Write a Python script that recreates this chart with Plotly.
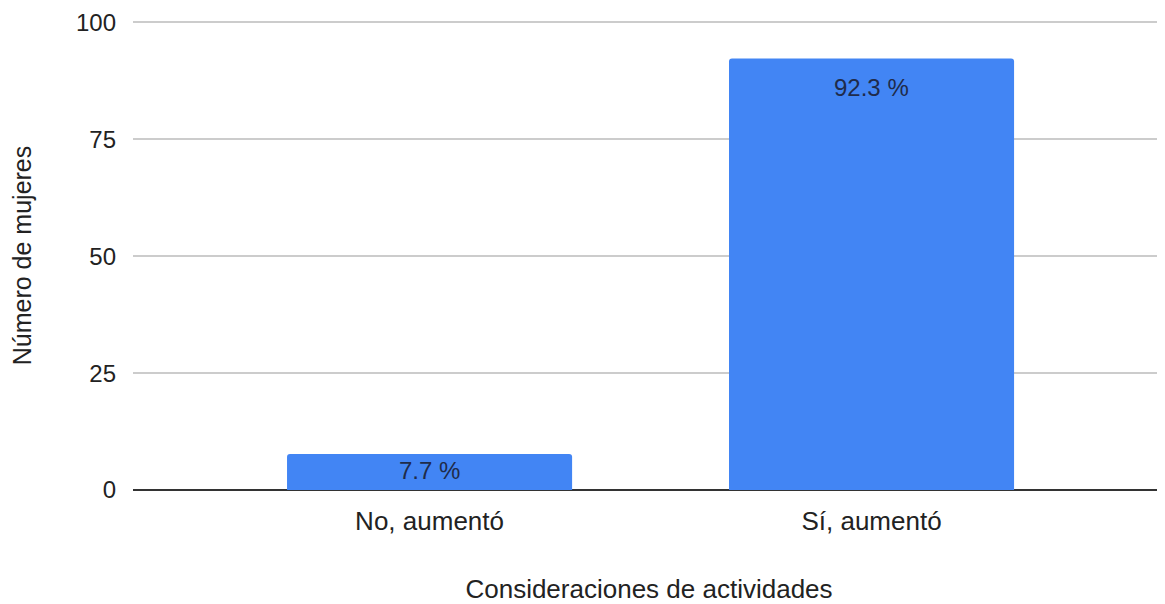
import plotly.graph_objects as go

categories = ["No, aumentó", "Sí, aumentó"]
values = [7.7, 92.3]
labels = ["7.7 %", "92.3 %"]
y_ticks = [0, 25, 50, 75, 100]

FONT = "Liberation Sans, Arial"

fig = go.Figure()
fig.add_trace(go.Bar(
    x=[0, 1], y=values,
    marker=dict(color="#4285F4", line=dict(width=0), cornerradius=3),
    width=0.645, showlegend=False,
))
for i, (v, t) in enumerate(zip(values, labels)):
    fig.add_annotation(
        x=i, y=v, text=t, showarrow=False, yanchor="top",
        yshift=(-14 if v > 20 else -1),
        font=dict(family=FONT, size=24, color="#1f2b4a"),
    )
fig.update_layout(
    width=1157, height=596,
    margin=dict(l=125, r=0, t=13, b=114),
    paper_bgcolor="white", plot_bgcolor="white",
    font=dict(family=FONT, size=24, color="#222"),
)
fig.update_xaxes(
    range=[-0.671, 1.664], tickvals=[0, 1], ticktext=categories,
    showgrid=False, zeroline=False, showline=False, ticks="",
    ticklabelstandoff=13,
    tickfont=dict(family=FONT, size=26, color="#222"),
    title=dict(text="Consideraciones de actividades", standoff=46,
               font=dict(family=FONT, size=26, color="#222")),
    automargin=False,
)
fig.update_yaxes(
    range=[0, 100.3], tickvals=y_ticks,
    showgrid=True, gridcolor="#cccccc", gridwidth=1.5,
    zeroline=True, zerolinecolor="#333333", zerolinewidth=1.5,
    showline=False, ticks="", ticklabelstandoff=16,
    tickfont=dict(family=FONT, size=24, color="#222"),
    title=dict(text="Número de mujeres", standoff=40,
               font=dict(family=FONT, size=25, color="#222")),
    automargin=False,
)
fig.write_html("out.html")
